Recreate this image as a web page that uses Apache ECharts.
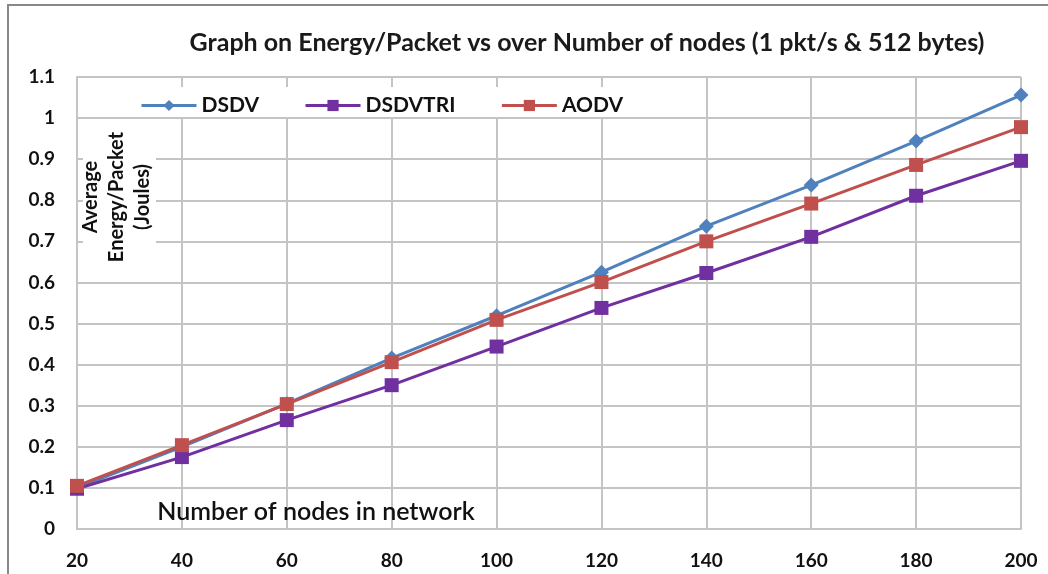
<!DOCTYPE html>
<html>
<head>
<meta charset="utf-8">
<script src="https://cdn.jsdelivr.net/npm/echarts@6/dist/echarts.min.js"></script>
<style>
  html, body { margin: 0; padding: 0; background: #fff; }
  #chart { width: 1048px; height: 574px; }
</style>
</head>
<body>
<div id="chart"></div>
<script>
// data
var nodes = [20, 40, 60, 80, 100, 120, 140, 160, 180, 200];
var dsdv = [0.100, 0.200, 0.305, 0.416, 0.519, 0.625, 0.737, 0.837, 0.944, 1.056];
var dsdvtri = [0.098, 0.175, 0.265, 0.350, 0.444, 0.538, 0.623, 0.711, 0.811, 0.896];
var aodv = [0.105, 0.204, 0.304, 0.406, 0.509, 0.601, 0.700, 0.792, 0.886, 0.978];

function pairs(ys) {
    return nodes.map(function (x, i) { return [x, ys[i]]; });
}

var font = 'Lato, "Open Sans", sans-serif';
var chart = echarts.init(document.getElementById('chart'));
var option = {
    animation: false,
    backgroundColor: '#fff',
    title: {
        text: 'Graph on Energy/Packet vs over Number of nodes (1 pkt/s & 512 bytes)',
        left: 582,
        top: 25,
        textAlign: 'center',
        textStyle: { fontFamily: font, fontSize: 25, fontWeight: 'bold', color: '#1a1a1a' }
    },
    legend: {
        left: 135,
        top: 90,
        itemWidth: 55,
        itemHeight: 14,
        itemGap: 45,
        lineStyle: { width: 3 },
        textStyle: { fontFamily: font, fontSize: 21, fontWeight: 'bold', color: '#111' },
        data: ['DSDV', 'DSDVTRI', 'AODV']
    },
    grid: { left: 77, right: 27, top: 77, bottom: 45 },
    xAxis: {
        type: 'value',
        min: 20,
        max: 200,
        interval: 20,
        axisLine: { lineStyle: { color: '#c4c4c4', width: 2 } },
        axisTick: { show: false },
        axisLabel: { margin: 22, fontFamily: font, fontSize: 19, fontWeight: 'bold', color: '#111' },
        splitLine: { lineStyle: { color: '#c4c4c4', width: 2 } }
    },
    yAxis: {
        type: 'value',
        min: 0,
        max: 1.1,
        interval: 0.1,
        axisLine: { show: true, lineStyle: { color: '#c4c4c4', width: 2 } },
        axisTick: { show: false },
        axisLabel: {
            margin: 22, fontFamily: font, fontSize: 19, fontWeight: 'bold', color: '#111',
            formatter: function (v) { return String(Math.round(v * 10) / 10); }
        },
        splitLine: { lineStyle: { color: '#c4c4c4', width: 2 } }
    },
    graphic: [
        { type: 'rect', z: 1, shape: { x: 8, y: 5, width: 1060, height: 600 }, style: { fill: 'none', stroke: '#888', lineWidth: 2 } },
        { type: 'rect', z: 1, shape: { x: 79, y: 87, width: 545, height: 30 }, style: { fill: '#fff' } },
        { type: 'rect', z: 1, shape: { x: 83, y: 126, width: 73, height: 138 }, style: { fill: '#fff' } },
        {
            type: 'text', z: 3, x: 117, y: 197, rotation: Math.PI / 2,
            style: {
                text: 'Average\nEnergy/Packet\n(Joules)', align: 'center', verticalAlign: 'middle',
                font: 'bold 20px ' + font, fill: '#111', lineHeight: 26
            }
        },
        {
            type: 'text', z: 3, x: 316, y: 512,
            style: {
                text: 'Number of nodes in network', align: 'center', verticalAlign: 'middle',
                font: '600 25px ' + font, fill: '#111'
            }
        }
    ],
    series: [
        {
            name: 'DSDV', type: 'line', data: pairs(dsdv),
            symbol: 'diamond', symbolSize: 15,
            lineStyle: { color: '#4f81bd', width: 3 },
            itemStyle: { color: '#4f81bd' }
        },
        {
            name: 'DSDVTRI', type: 'line', data: pairs(dsdvtri),
            symbol: 'rect', symbolSize: 14,
            lineStyle: { color: '#7030a0', width: 3 },
            itemStyle: { color: '#7030a0' }
        },
        {
            name: 'AODV', type: 'line', data: pairs(aodv),
            symbol: 'rect', symbolSize: 14,
            lineStyle: { color: '#c0504d', width: 3 },
            itemStyle: { color: '#c0504d' }
        }
    ]
};
chart.setOption(option);
</script>
</body>
</html>
